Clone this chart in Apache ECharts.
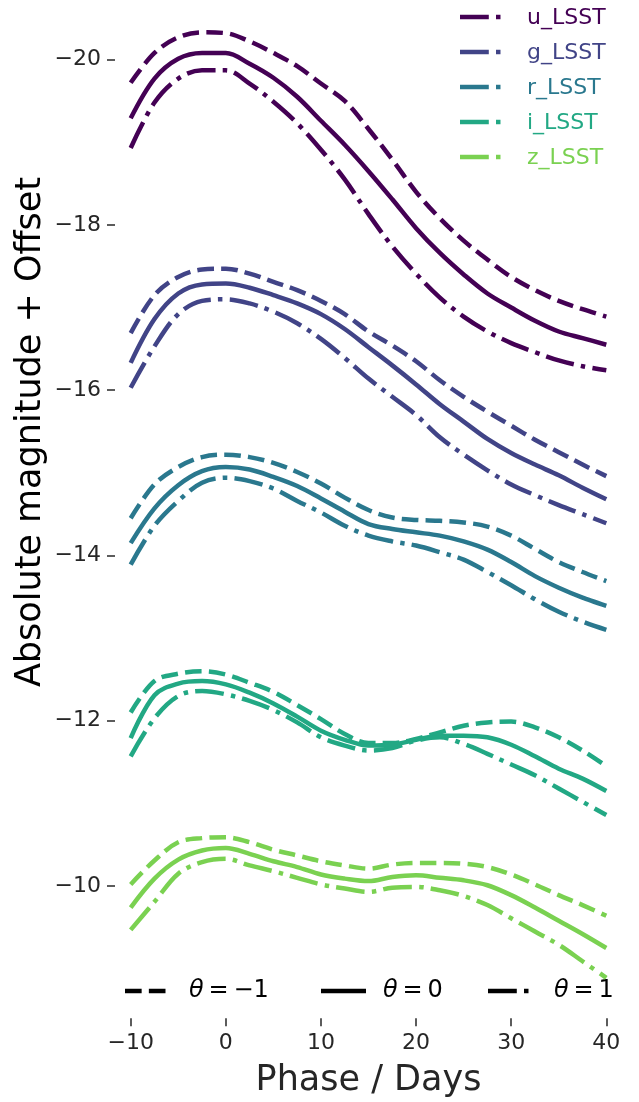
<!DOCTYPE html>
<html>
<head>
<meta charset="utf-8">
<script src="https://cdn.jsdelivr.net/npm/echarts@6/dist/echarts.min.js"></script>
<style>
html,body{margin:0;padding:0;background:#fff;}
#chart{width:639px;height:1102px;}
</style>
</head>
<body>
<div id="chart"></div>
<script>
// ---- data ----
const phase = [-10,-7.5,-5,-2.5,0,2.5,5,7.5,10,12.5,15,17.5,20,22.5,25,27.5,30,32.5,35,37.5,40];
const bands = ['u_LSST','g_LSST','r_LSST','i_LSST','z_LSST'];
const thetaLabels = ['\u2212' + '1', '0', '1'];
const xTicks = [-10,0,10,20,30,40];
const yTicks = [-20,-18,-16,-14,-12,-10];

const u_m1 = [-19.72,-20.08,-20.27,-20.33,-20.32,-20.22,-20.08,-19.92,-19.71,-19.50,-19.16,-18.79,-18.40,-18.08,-17.81,-17.58,-17.37,-17.21,-17.08,-16.98,-16.89];
const u_0  = [-19.29,-19.77,-20.01,-20.08,-20.08,-19.95,-19.78,-19.55,-19.26,-18.97,-18.65,-18.31,-17.96,-17.66,-17.40,-17.17,-17.00,-16.84,-16.71,-16.63,-16.55];
const u_p1 = [-18.93,-19.48,-19.77,-19.87,-19.87,-19.71,-19.49,-19.23,-18.91,-18.55,-18.13,-17.74,-17.41,-17.12,-16.89,-16.71,-16.57,-16.46,-16.36,-16.29,-16.24];

const g_m1 = [-16.69,-17.15,-17.37,-17.46,-17.47,-17.41,-17.31,-17.21,-17.08,-16.92,-16.71,-16.54,-16.35,-16.12,-15.92,-15.74,-15.57,-15.40,-15.25,-15.10,-14.96];
const g_0  = [-16.33,-16.86,-17.17,-17.28,-17.29,-17.24,-17.15,-17.05,-16.92,-16.74,-16.52,-16.30,-16.07,-15.83,-15.62,-15.41,-15.24,-15.10,-14.97,-14.82,-14.68];
const g_p1 = [-16.03,-16.53,-16.92,-17.08,-17.10,-17.05,-16.95,-16.81,-16.62,-16.39,-16.14,-15.92,-15.70,-15.43,-15.22,-15.03,-14.86,-14.73,-14.61,-14.50,-14.39];

const r_m1 = [-14.45,-14.86,-15.07,-15.19,-15.22,-15.19,-15.12,-15.01,-14.87,-14.70,-14.55,-14.46,-14.43,-14.42,-14.40,-14.35,-14.24,-14.08,-13.92,-13.80,-13.69];
const r_0  = [-14.15,-14.57,-14.85,-15.02,-15.07,-15.04,-14.95,-14.84,-14.69,-14.53,-14.38,-14.32,-14.28,-14.24,-14.17,-14.07,-13.92,-13.75,-13.61,-13.49,-13.39];
const r_p1 = [-13.89,-14.36,-14.66,-14.88,-14.94,-14.90,-14.81,-14.66,-14.52,-14.36,-14.24,-14.17,-14.12,-14.04,-13.95,-13.80,-13.64,-13.47,-13.32,-13.20,-13.10];

const i_m1 = [-12.10,-12.48,-12.57,-12.60,-12.56,-12.46,-12.35,-12.19,-12.02,-11.84,-11.73,-11.73,-11.78,-11.86,-11.94,-11.98,-11.99,-11.92,-11.80,-11.64,-11.45];
const i_0  = [-11.79,-12.31,-12.45,-12.48,-12.44,-12.34,-12.21,-12.05,-11.88,-11.77,-11.70,-11.71,-11.77,-11.82,-11.82,-11.80,-11.71,-11.57,-11.42,-11.30,-11.15];
const i_p1 = [-11.57,-12.03,-12.30,-12.36,-12.32,-12.24,-12.13,-11.98,-11.80,-11.70,-11.64,-11.67,-11.76,-11.80,-11.72,-11.60,-11.47,-11.34,-11.18,-11.02,-10.86];

const z_m1 = [-10.02,-10.31,-10.53,-10.58,-10.59,-10.53,-10.44,-10.37,-10.30,-10.25,-10.21,-10.26,-10.28,-10.28,-10.27,-10.23,-10.14,-10.02,-9.89,-9.77,-9.64];
const z_0  = [-9.74,-10.09,-10.32,-10.43,-10.46,-10.39,-10.30,-10.23,-10.14,-10.09,-10.06,-10.11,-10.13,-10.10,-10.07,-10.01,-9.89,-9.74,-9.58,-9.42,-9.25];
const z_p1 = [-9.47,-9.81,-10.15,-10.29,-10.33,-10.25,-10.18,-10.10,-10.02,-9.97,-9.93,-9.98,-9.99,-9.95,-9.88,-9.77,-9.61,-9.45,-9.29,-9.09,-8.89];

const bandData = [
  [u_m1, u_0, u_p1],
  [g_m1, g_0, g_p1],
  [r_m1, r_0, r_p1],
  [i_m1, i_0, i_p1],
  [z_m1, z_0, z_p1]
];

// ---- styles ----
const colors = ['#440154','#414487','#2a788e','#22a884','#7ad151'];
const LW = 4.5;
const dashPatterns = [[3.7*LW, 1.6*LW], 'solid', [6.4*LW, 1.6*LW, 1.0*LW, 1.6*LW]];
const FONT = 'DejaVu Sans';

const series = [];
bandData.forEach((trip, b) => {
  trip.forEach((vals, t) => {
    series.push({
      name: bands[b] + ' ' + t,
      type: 'line',
      data: phase.map((p, k) => [p, vals[k]]),
      showSymbol: false,
      smooth: 0.35,
      lineStyle: { color: colors[b], width: LW, type: dashPatterns[t], cap: 'butt', join: 'round' },
      z: 2,
      silent: true
    });
  });
});

// ---- legends drawn as graphics ----
const graphics = [];
bands.forEach((name, b) => {
  const y = 17 + b * 35;
  graphics.push({ type: 'line', shape: { x1: 460, y1: y, x2: 460 + 6.4*LW, y2: y },
    style: { stroke: colors[b], lineWidth: LW, lineCap: 'butt' } });
  graphics.push({ type: 'line', shape: { x1: 460 + 8.0*LW, y1: y, x2: 460 + 9.0*LW, y2: y },
    style: { stroke: colors[b], lineWidth: LW, lineCap: 'butt' } });
  graphics.push({ type: 'text', x: 527, y: y + 1,
    style: { text: name, fill: colors[b], font: '22px "' + FONT + '"', textVerticalAlign: 'middle', textAlign: 'left' } });
});

const ly = 991;
// theta = -1 (dashed)
graphics.push({ type: 'line', shape: { x1: 125, y1: ly, x2: 125 + 3.7*LW, y2: ly }, style: { stroke: '#000', lineWidth: LW, lineCap: 'butt' } });
graphics.push({ type: 'line', shape: { x1: 125 + 5.3*LW, y1: ly, x2: 125 + 9.0*LW, y2: ly }, style: { stroke: '#000', lineWidth: LW, lineCap: 'butt' } });
// theta = 0 (solid)
graphics.push({ type: 'line', shape: { x1: 321, y1: ly, x2: 366, y2: ly }, style: { stroke: '#000', lineWidth: LW, lineCap: 'butt' } });
// theta = 1 (dash-dot)
graphics.push({ type: 'line', shape: { x1: 488, y1: ly, x2: 488 + 6.4*LW, y2: ly }, style: { stroke: '#000', lineWidth: LW, lineCap: 'butt' } });
graphics.push({ type: 'line', shape: { x1: 488 + 8.0*LW, y1: ly, x2: 488 + 9.0*LW, y2: ly }, style: { stroke: '#000', lineWidth: LW, lineCap: 'butt' } });

const thetaX = [189, 383, 554];
thetaLabels.forEach((lab, k) => {
  graphics.push({ type: 'text', x: thetaX[k], y: ly,
    style: {
      text: '{it|\u03b8}{n|\u2009=\u2009' + lab + '}',
      textVerticalAlign: 'middle', textAlign: 'left',
      rich: {
        it: { fontFamily: FONT, fontSize: 24, fontStyle: 'italic', fill: '#000', color: '#000' },
        n: { fontFamily: FONT, fontSize: 24, fill: '#000', color: '#000' }
      }
    } });
});

// axis titles
graphics.push({ type: 'text', x: 31, y: 432, rotation: Math.PI / 2,
  style: { text: 'Absolute magnitude + Offset', fill: '#000', font: '35px "' + FONT + '"', textAlign: 'center', textVerticalAlign: 'middle' } });
graphics.push({ type: 'text', x: 368.5, y: 1081,
  style: { text: 'Phase / Days', fill: '#262626', font: '35px "' + FONT + '"', textAlign: 'center', textVerticalAlign: 'middle' } });

const fmt = v => (v < 0 ? '\u2212' : '') + Math.abs(v);

const chart = echarts.init(document.getElementById('chart'), null, { renderer: 'canvas' });
chart.setOption({
  animation: false,
  backgroundColor: '#ffffff',
  textStyle: { fontFamily: FONT },
  grid: { left: 115, top: 10, width: 507, height: 1008.3, containLabel: false },
  xAxis: {
    type: 'value', min: -11.65, max: 41.65,
    axisLine: { show: false, onZero: false },
    splitLine: { show: false },
    axisTick: { show: true, customValues: xTicks, length: 8, lineStyle: { color: '#333', width: 1.6 } },
    axisLabel: { customValues: xTicks, formatter: fmt, fontSize: 22, color: '#262626', margin: 14, fontFamily: FONT }
  },
  yAxis: {
    type: 'value', inverse: true, min: -20.6, max: -8.4,
    axisLine: { show: false, onZero: false },
    splitLine: { show: false },
    axisTick: { show: true, customValues: yTicks, length: 8, lineStyle: { color: '#333', width: 1.6 } },
    axisLabel: { customValues: yTicks, formatter: fmt, fontSize: 22, color: '#262626', margin: 14, fontFamily: FONT }
  },
  series: series,
  graphic: graphics
});
</script>
</body>
</html>
